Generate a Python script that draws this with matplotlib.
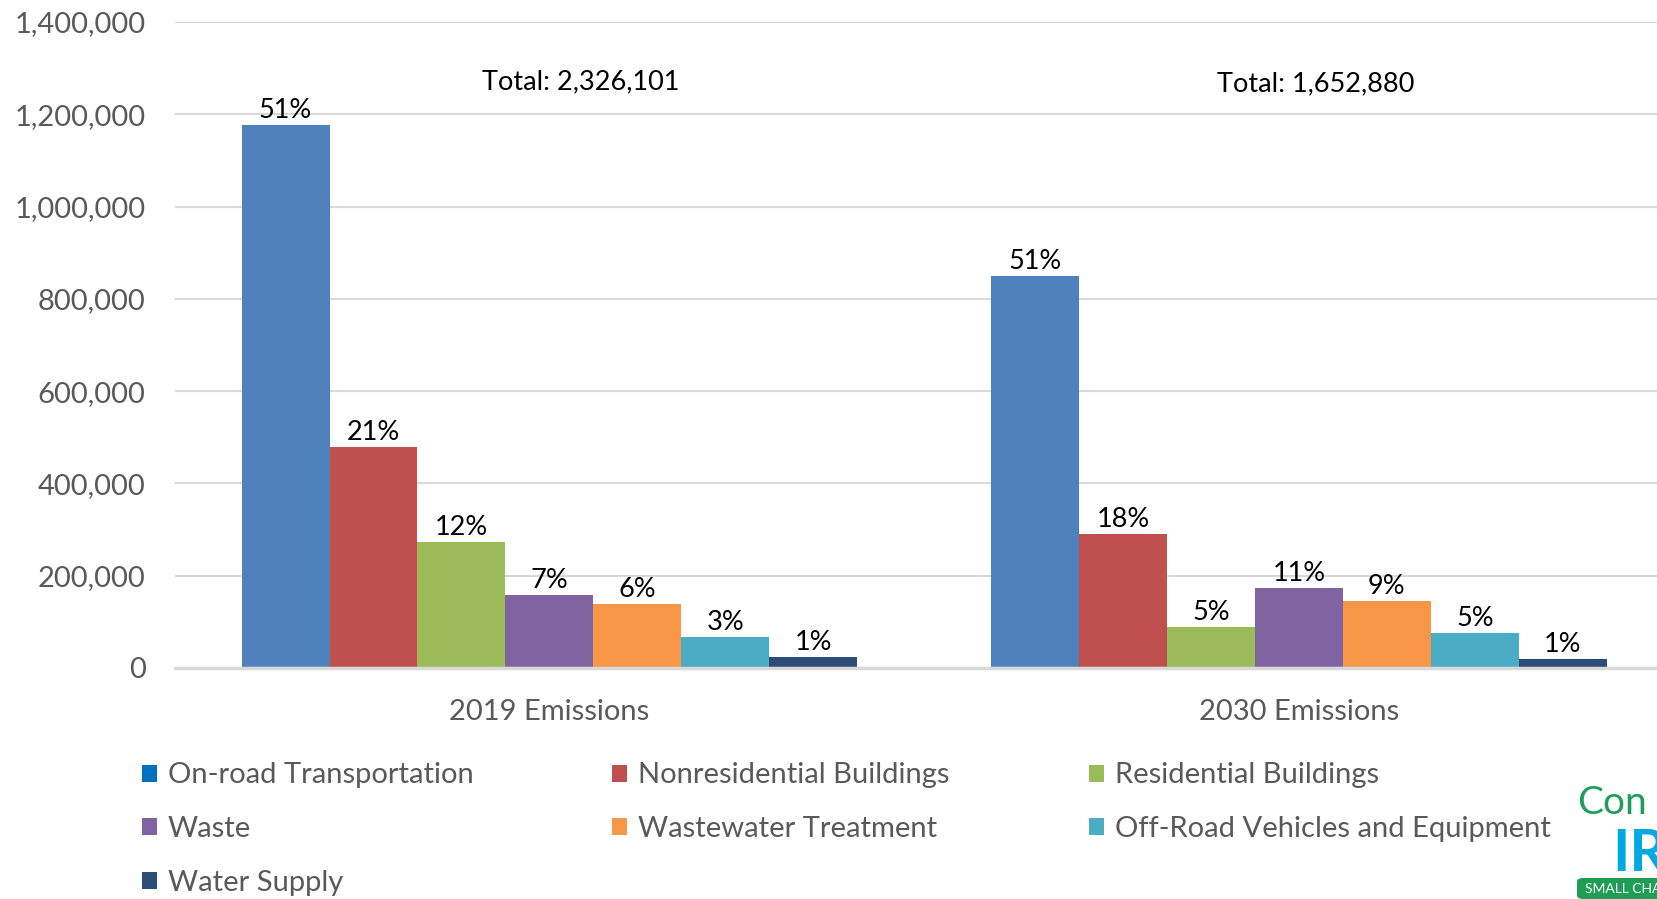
import matplotlib.pyplot as plt
from matplotlib.patches import Patch, FancyBboxPatch
import numpy as np

plt.rcParams['font.family'] = ['Lato', 'DejaVu Sans']

groups = ["2019 Emissions", "2030 Emissions"]
sectors = ["On-road Transportation", "Nonresidential Buildings", "Residential Buildings",
           "Waste", "Wastewater Treatment", "Off-Road Vehicles and Equipment", "Water Supply"]
values_2019 = [1177000, 479000, 273000, 158000, 138000, 66500, 23000]
values_2030 = [850000, 291000, 89000, 174000, 146000, 75000, 19500]
pct_2019 = ["51%", "21%", "12%", "7%", "6%", "3%", "1%"]
pct_2030 = ["51%", "18%", "5%", "11%", "9%", "5%", "1%"]
totals = ["Total: 2,326,101", "Total: 1,652,880"]

bar_colors = ["#4F81BD", "#C0504D", "#9BBB59", "#8064A2", "#F79646", "#4BACC6", "#2C4D75"]
legend_colors = ["#0070C0"] + bar_colors[1:]

fig = plt.figure(figsize=(16.57, 8.99), dpi=100)
ax = fig.add_axes([0.10546, 0.2570, 0.9046, 0.7186])

x = np.arange(len(groups))
w = 0.1174
for i, name in enumerate(sectors):
    vals = [values_2019[i], values_2030[i]]
    bars = ax.bar(x + (i - 3) * w, vals, w, color=bar_colors[i], zorder=3)
    ax.bar_label(bars, labels=[pct_2019[i], pct_2030[i]], padding=1.5,
                 fontsize=19.5, color='black')

ax.text(0.042, 1271000, totals[0], ha='center', va='center', fontsize=19.5, color='black')
ax.text(1.023, 1265000, totals[1], ha='center', va='center', fontsize=19.5, color='black')

ax.set_xlim(-0.5, 1.5)
ax.set_ylim(0, 1400000)
ax.set_yticks(np.arange(0, 1400001, 200000))
ax.set_yticklabels([f"{v:,}" for v in range(0, 1400001, 200000)])
ax.set_xticks(x)
ax.set_xticklabels(groups)
ax.tick_params(axis='y', length=0, pad=21, labelsize=21, labelcolor='#595959')
ax.tick_params(axis='x', length=0, pad=22, labelsize=21, labelcolor='#595959')
ax.grid(axis='y', color='#D9D9D9', linewidth=1.5, zorder=0)
for s in ['top', 'right', 'left']:
    ax.spines[s].set_visible(False)
ax.spines['bottom'].set_color('#D9D9D9')
ax.spines['bottom'].set_linewidth(2.5)
ax.spines['bottom'].set_zorder(4)

# legend, row-wise order like the original
order = [0, 3, 6, 1, 4, 2, 5]
handles = [Patch(facecolor=legend_colors[k], label=sectors[k]) for k in order]
fig.legend(handles=handles, ncol=3, loc='upper left', bbox_to_anchor=(0.0855, 0.152),
           frameon=False, fontsize=21, labelcolor='#595959', handlelength=0.52,
           handleheight=0.52, handletextpad=0.38, columnspacing=4.75, labelspacing=0.95,
           borderpad=0, borderaxespad=0)

# partial logo in the corner
fig.text(1577 / 1657, 1 - 814 / 899, "Con", fontsize=28, color='#1E9E5A', va='baseline', ha='left')
fig.text(1612 / 1657, 1 - 871 / 899, "IR", fontsize=42, color='#00A9E0', fontweight='bold',
         va='baseline', ha='left')
fig.patches.append(FancyBboxPatch((1577 / 1657, 0.0), 0.06, 21 / 899,
                                  boxstyle='round,pad=0,rounding_size=0.004',
                                  transform=fig.transFigure, facecolor='#1F9D55',
                                  edgecolor='none'))
fig.text(1585 / 1657, 1 - 889 / 899, "SMALL CHANGE", fontsize=10, color='white',
         va='center', ha='left')

fig.savefig("out.png", dpi=100)
